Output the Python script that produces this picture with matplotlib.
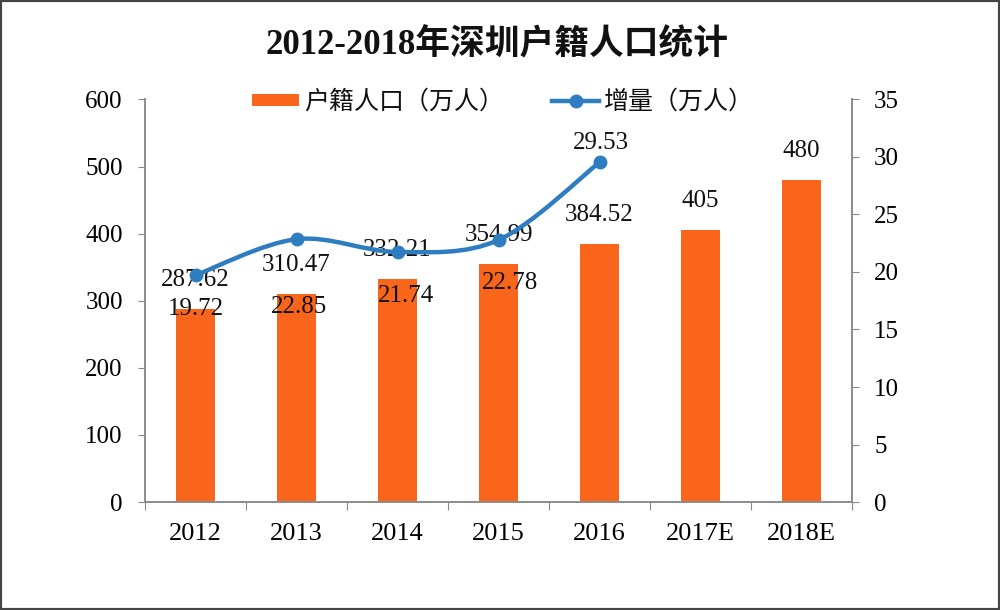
import numpy as np
import matplotlib
matplotlib.use('Agg')
import matplotlib.pyplot as plt
from matplotlib.path import Path
from matplotlib.patches import PathPatch, Rectangle
from matplotlib.lines import Line2D

# data
years = ['2012', '2013', '2014', '2015', '2016', '2017E', '2018E']
population = [287.62, 310.47, 332.21, 354.99, 384.52, 405, 480]
increase = [19.72, 22.85, 21.74, 22.78, 29.53]

title = '2012-2018年深圳户籍人口统计'
bar_name = '户籍人口（万人）'
line_name = '增量（万人）'

orange = '#F9661B'
blue = '#2E7DC0'
fonts = ['Liberation Serif', 'Noto Sans CJK SC', 'DejaVu Sans']
plt.rcParams['font.family'] = fonts
plt.rcParams['text.color'] = '#111111'

fig = plt.figure(figsize=(10, 6.1), dpi=100)
ax = fig.add_axes([0.145, 0.177, 0.707, 0.66])
ax2 = ax.twinx()

x = np.arange(len(years))
bars = ax.bar(x, population, width=0.39, color=orange, zorder=2)

ax.set_xlim(-0.5, len(years) - 0.5)
ax.set_ylim(0, 600)
ax.set_yticks(range(0, 601, 100))
ax2.set_ylim(0, 35)
ax2.set_yticks(range(0, 36, 5))

# ticks between categories, labels at centres
ax.set_xticks(np.arange(-0.5, len(years)), labels=[])
ax.set_xticks(x, labels=years, minor=True)
ax.tick_params(axis='x', which='major', direction='out', length=6, color='#888888')
ax.tick_params(axis='x', which='minor', length=0, pad=15, labelsize=19)
ax.tick_params(axis='y', direction='out', length=5, color='#888888', pad=11, labelsize=18)
ax2.tick_params(axis='y', direction='out', length=5, color='#888888', pad=11, labelsize=18)

for a in (ax, ax2):
    a.spines['top'].set_visible(False)
    for s in ('left', 'right', 'bottom'):
        a.spines[s].set_color('#8c8c8c')
        a.spines[s].set_linewidth(1.2)

# smooth line through the points (catmull-rom as bezier)
xl = x[:len(increase)]
pts = np.column_stack([xl, increase])
ext = np.vstack([pts[0], pts, pts[-1]])
verts = [tuple(pts[0])]
codes = [Path.MOVETO]
for i in range(len(pts) - 1):
    p0, p1, p2, p3 = ext[i], ext[i + 1], ext[i + 2], ext[i + 3]
    c1 = p1 + (p2 - p0) / 6
    c2 = p2 - (p3 - p1) / 6
    verts += [tuple(c1), tuple(c2), tuple(p2)]
    codes += [Path.CURVE4] * 3
ax2.add_patch(PathPatch(Path(verts, codes), facecolor='none', edgecolor=blue,
                        lw=3.2, zorder=3, capstyle='round'))
ax2.plot(xl, increase, 'o', color=blue, markersize=9, zorder=4)

# data labels
for xi, v in zip(x, population):
    ax.annotate(f'{v:g}', (xi, v), xytext=(0, 21), textcoords='offset points',
                ha='center', va='center', fontsize=18, zorder=5)
line_offsets = [(0, -24), (2, -49), (6, -32), (8, -31), (1, 14)]
for xi, v, off in zip(xl, increase, line_offsets):
    ax2.annotate(f'{v:g}', (xi, v), xytext=off, textcoords='offset points',
                 ha='center', va='center', fontsize=18, zorder=5)

fig.text(0.497, 0.925, title, ha='center', va='center', fontsize=25,
         fontweight='bold')

handle_line = Line2D([], [], color=blue, lw=3.2, marker='o', markersize=9)
fig.legend([bars, handle_line], [bar_name, line_name], loc='center',
           bbox_to_anchor=(0.503, 0.833), ncol=2, frameon=False,
           handleheight=0.35, handlelength=1.9, handletextpad=0.2,
           columnspacing=1.9, prop={'family': fonts[1:], 'size': 18})

fig.patches.append(Rectangle((0, 0), 1, 1, transform=fig.transFigure,
                             fill=False, edgecolor='#444444', lw=3))

fig.savefig('out.png', dpi=100)
